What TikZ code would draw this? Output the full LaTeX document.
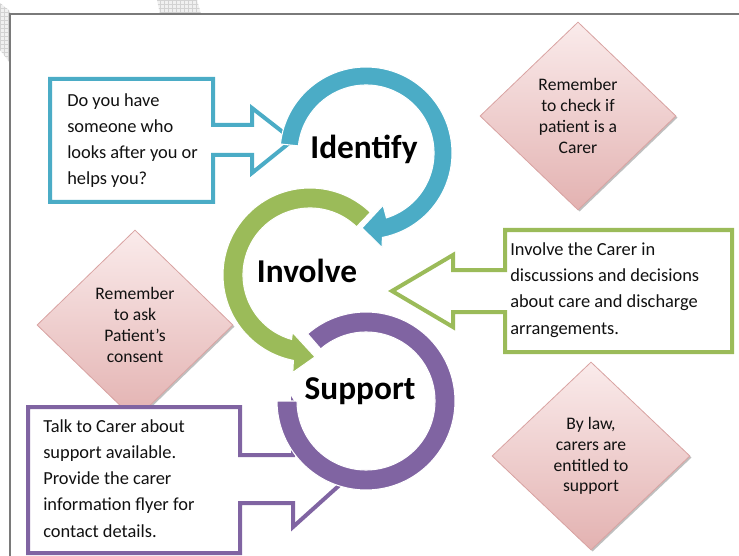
\documentclass[tikz,border=0pt]{standalone}
\usepackage{fontspec}
\setmainfont{Carlito}
\usetikzlibrary{shapes.geometric,shadows,patterns}

\definecolor{cBlue}{HTML}{4BACC6}
\definecolor{cGreen}{HTML}{9BBB59}
\definecolor{cPurple}{HTML}{8064A2}
\definecolor{cPinkTop}{HTML}{FAEBEB}
\definecolor{cPinkBot}{HTML}{E3B2B1}
\definecolor{cPinkEdge}{HTML}{D9A3A2}
\definecolor{cFrame}{HTML}{7A7A7A}
\definecolor{cText}{HTML}{111111}

\begin{document}
\begin{tikzpicture}[x=0.75pt,y=0.75pt,
  callout/.style={line width=3pt, fill=white, line join=miter},
  % anchored at the baseline of the last line
  bodytext/.style={font=\fontsize{13.8}{19.6}\selectfont, text=cText,
    align=left, anchor=base west, inner sep=0pt},
  notebox/.style={shape=diamond, draw=cPinkEdge, line width=0.6pt,
    top color=cPinkTop, bottom color=cPinkBot, inner sep=0pt,
    drop shadow={shadow xshift=1.2pt, shadow yshift=-1.2pt, opacity=0.25, fill=black},
    font=\fontsize{13.2}{15.6}\selectfont, text=cText, align=center},
  steplabel/.style={font=\bfseries\fontsize{25}{30}\selectfont, text=black, inner sep=0pt},
  ringpart/.style={draw=white, line width=0.8pt}
]
\useasboundingbox (0,0) rectangle (739,-556);

% faint grid patches behind the page frame
\fill[gray!12] (0,-3) -- (10,-11) -- (10,-63) -- (0,-50) -- cycle;
\fill[pattern=grid, pattern color=gray!35] (0,-3) -- (10,-11) -- (10,-63) -- (0,-50) -- cycle;
\fill[gray!12] (157,0) -- (197,0) -- (201,-14) -- (160,-14) -- cycle;
\fill[pattern=grid, pattern color=gray!35] (157,0) -- (197,0) -- (201,-14) -- (160,-14) -- cycle;

% page frame
\draw[cFrame, line width=1pt] (739,-14) -- (10,-14) -- (10,-556);

% reminder diamonds
\node[notebox, minimum width=147pt, minimum height=141pt] (checkcarer) at (578,-116)
  {Remember\\to check if\\patient is a\\Carer};
\node[notebox, minimum width=147pt, minimum height=142.5pt] (consent) at (135,-325)
  {Remember\\to ask\\Patient’s\\consent};
\node[notebox, minimum width=148.5pt, minimum height=141pt] (bylaw) at (591,-456)
  {By law,\\carers are\\entitled to\\support};

% callout boxes with arrows
\draw[callout, draw=cBlue] (50,-79) -- (213,-79) -- (213,-125) -- (252,-125) -- (252,-108)
  -- (293,-140) -- (252,-173) -- (252,-155) -- (213,-155) -- (213,-202) -- (50,-202) -- cycle;
\draw[callout, draw=cGreen] (505,-230) -- (732,-230) -- (732,-352) -- (505,-352) -- (505,-312)
  -- (453,-312) -- (453,-327) -- (392,-291) -- (453,-255) -- (453,-270) -- (505,-270) -- cycle;
\draw[callout, draw=cPurple] (28,-407) -- (240,-407) -- (240,-455) -- (293,-455) -- (293,-403)
  -- (343,-482) -- (293,-527) -- (293,-503) -- (240,-503) -- (240,-553) -- (28,-553) -- cycle;

\node[bodytext] (asktext) at (67,-185)
  {Do you have\\someone who\\looks after you or\\helps you?};
\node[bodytext] (involvetext) at (510,-334)
  {Involve the Carer in\\discussions and decisions\\about care and discharge\\arrangements.};
\node[bodytext] (supporttext) at (43,-537)
  {Talk to Carer about\\support available.\\Provide the carer\\information flyer for\\contact details.};

% Support ring
\begin{scope}[shift={(366,-401)}]
  \fill[white] (0,0) circle[radius=70];
  \filldraw[ringpart, fill=cPurple] (131:89) arc[start angle=131, end angle=-180, radius=89]
    -- (180:69) arc[start angle=180, end angle=491, radius=69] -- cycle;
\end{scope}

% Involve ring with arrow head
\begin{scope}[shift={(310,-275)}]
  \filldraw[ringpart, fill=cGreen] (46:87) arc[start angle=46, end angle=259, radius=87]
    -- (260:99) -- (273.5:82) -- (253:60) -- (254:67)
    arc[start angle=254, end angle=46, radius=67] -- cycle;
\end{scope}

% Identify ring with arrow head
\begin{scope}[shift={(366,-153)}]
  \filldraw[ringpart, fill=cBlue] (174:86) arc[start angle=174, end angle=-79, radius=86]
    -- (-80.4:96) -- (-93:75) -- (-71.9:55) -- (-72.5:68)
    arc[start angle=-72.5, end angle=174, radius=68] -- cycle;
\end{scope}

% step labels
\node[steplabel] (identify) at (364,-149) {Identify};
\node[steplabel] (involve) at (307,-271) {Involve};
\node[steplabel] (support) at (360,-391) {Support};
\end{tikzpicture}
\end{document}
